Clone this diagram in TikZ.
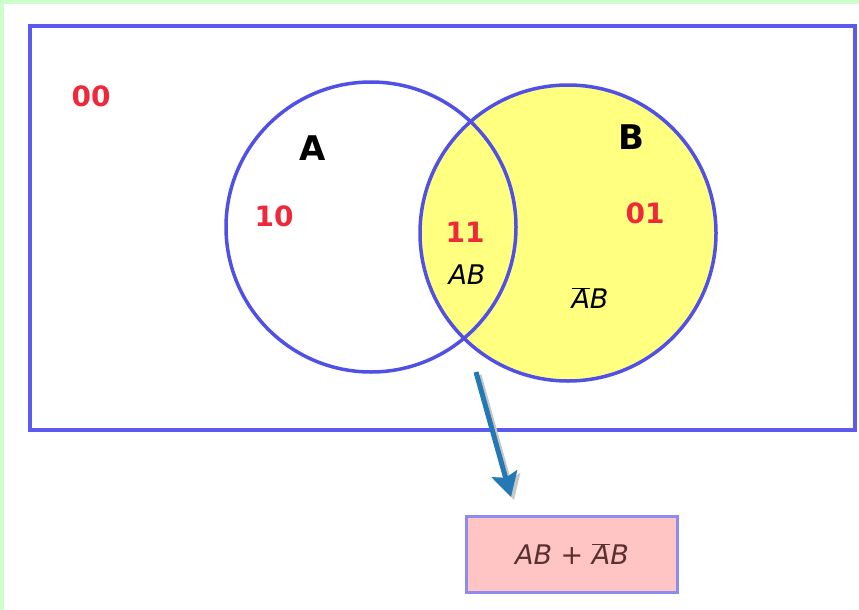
\documentclass[tikz,border=0pt]{standalone}
\usepackage{fontspec}
\setmainfont{DejaVu Sans}
\usetikzlibrary{arrows.meta}
\definecolor{bggreen}{HTML}{CCFFCC}
\definecolor{frameblue}{HTML}{5A5AEE}
\definecolor{ringblue}{HTML}{5050E6}
\definecolor{setyellow}{HTML}{FFFF80}
\definecolor{bitred}{HTML}{EE2A3A}
\definecolor{arrowteal}{HTML}{2479B5}
\definecolor{boxpink}{HTML}{FFC4C4}
\definecolor{boxedge}{HTML}{8C8CF0}
\definecolor{termbrown}{HTML}{5A3030}
\newcommand{\nbar}[1]{\overline{#1}}
\begin{document}
\begin{tikzpicture}[x=1pt,y=-1pt,
		ring/.style={circle,draw=ringblue,line width=3.5pt,inner sep=0pt,minimum size=#1},
		bits/.style={text=bitred,font=\fontsize{28}{28}\selectfont\bfseries},
		setname/.style={font=\fontsize{34}{34}\selectfont\bfseries},
		term/.style={font=\fontsize{27}{27}\selectfont\itshape}]
		\fill[bggreen] (0,0) rectangle (859,610);
		\fill[white] (4,4) rectangle (859,610);
		\useasboundingbox (0,0) rectangle (859,610);
		\draw[frameblue,line width=3.5pt] (30,26) rectangle (855,430);
		\node[ring=296pt,fill=setyellow] (B) at (568,233) {};
		\node[ring=290pt] (A) at (371,227) {};
		\node[bits] (n00) at (91,96) {00};
		\node[bits] (n10) at (274,216) {10};
		\node[bits] (n11) at (465,232) {11};
		\node[bits] (n01) at (645,213) {01};
		\node[setname] (lA) at (313,148) {A};
		\node[setname] (lB) at (631,137) {B};
		\node[term] (tAB) at (467,275) {AB};
		\node[term] (tnAB) at (590,298) {$\nbar{\textit{A}}$B};
		\node[draw=boxedge,fill=boxpink,line width=3pt,minimum width=211pt,minimum height=76pt,
			text=termbrown,font=\fontsize{27}{27}\selectfont\itshape] (sum) at (572,554) {AB + $\nbar{\textit{A}}$B};
		\coordinate (tail) at (476,372);
		\coordinate (tip) at (511,497);
		% shadow, then arrow
		\draw[black!22,line width=5pt,-{Stealth[length=24pt,width=26pt,inset=4pt]}] ([shift={(3,3)}]tail) -- ([shift={(3,3)}]tip);
		\draw[arrowteal,line width=5pt,-{Stealth[length=24pt,width=26pt,inset=4pt]}] (tail) -- (tip);
	\end{tikzpicture}
\end{document}
